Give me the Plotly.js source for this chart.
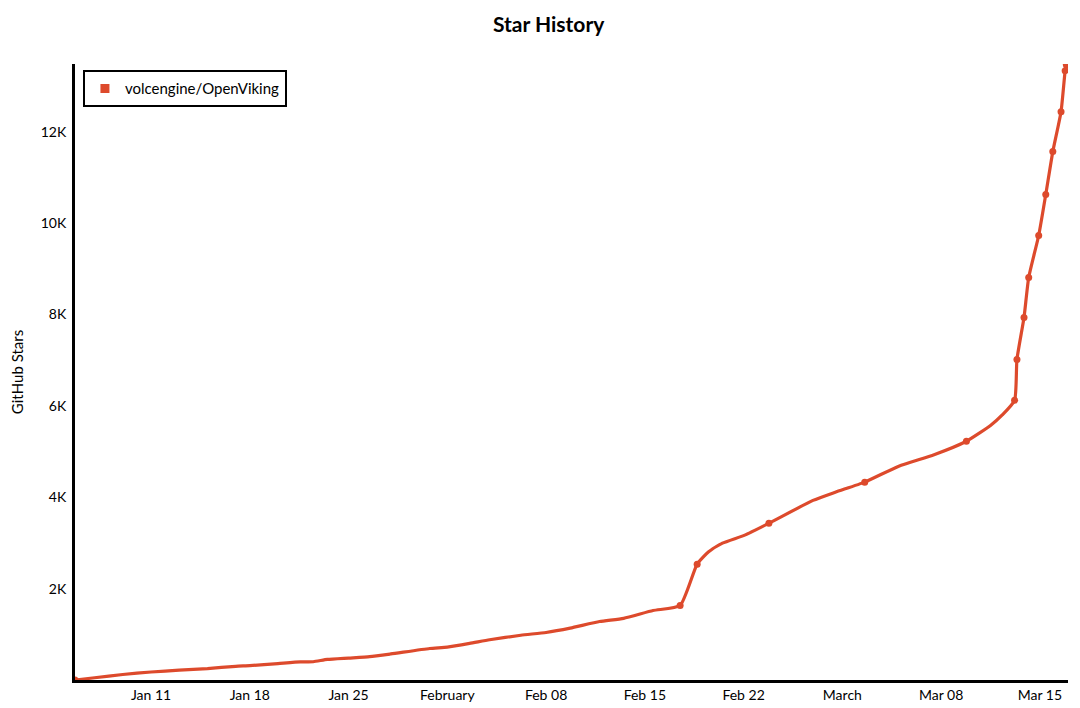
<!DOCTYPE html>
<html><head><meta charset="utf-8">
<script src="https://cdn.plot.ly/plotly-3.0.1.min.js"></script>
<style>html,body{margin:0;padding:0;background:#fff}#chart{width:1080px;height:708px}</style>
</head><body><div id="chart"></div>
<script>
const seriesName = 'volcengine/OpenViking';
const chartTitle = 'Star History';
const yTitle = 'GitHub Stars';

const lineDates = [
  '2026-01-05 14:40','2026-01-07 00:00','2026-01-09 00:00','2026-01-11 00:00','2026-01-13 00:00',
  '2026-01-15 00:00','2026-01-17 00:00','2026-01-18 00:00','2026-01-20 00:00','2026-01-21 14:00',
  '2026-01-22 12:00','2026-01-23 12:00','2026-01-25 00:00','2026-01-26 12:00','2026-01-28 00:00',
  '2026-01-30 18:00','2026-02-01 00:00','2026-02-02 14:00','2026-02-04 00:00','2026-02-06 05:00',
  '2026-02-08 00:00','2026-02-09 17:00','2026-02-11 19:00','2026-02-13 12:00','2026-02-15 14:00',
  '2026-02-17 12:00','2026-02-18 17:00','2026-02-19 12:00','2026-02-20 12:00','2026-02-22 02:00',
  '2026-02-23 19:00','2026-02-26 22:00','2026-02-28 12:00','2026-03-02 14:00','2026-03-05 00:00',
  '2026-03-07 12:00','2026-03-09 19:00','2026-03-11 12:00','2026-03-12 08:00','2026-03-13 05:00',
  '2026-03-13 09:00','2026-03-13 21:00','2026-03-14 05:00','2026-03-14 22:00','2026-03-15 10:00',
  '2026-03-15 22:00','2026-03-16 12:00','2026-03-16 19:00','2026-03-16 21:00'
];
const lineStars = [
  0, 50, 120, 175, 215,
  250, 300, 315, 360, 395,
  400, 450, 480, 510, 570,
  690, 720, 800, 880, 980,
  1040, 1135, 1280, 1350, 1520,
  1630, 2535, 2800, 2995, 3170,
  3430, 3930, 4110, 4330, 4680,
  4930, 5225, 5570, 5800, 6120,
  7016, 7934, 8809, 9727, 10623,
  11563, 12437, 13333, 13464
];

const dotDates = [
  '2026-01-05 14:40','2026-02-17 12:00','2026-02-18 17:00','2026-02-23 19:00','2026-03-02 14:00',
  '2026-03-09 19:00','2026-03-13 05:00','2026-03-13 09:00','2026-03-13 21:00','2026-03-14 05:00',
  '2026-03-14 22:00','2026-03-15 10:00','2026-03-15 22:00','2026-03-16 12:00','2026-03-16 19:00',
  '2026-03-16 21:00'
];
const dotStars = [
  0, 1630, 2535, 3430, 4330,
  5225, 6120, 7016, 7934, 8809,
  9727, 10623, 11563, 12437, 13333,
  13464
];

const xTickVals = ['2026-01-11','2026-01-18','2026-01-25','2026-02-01','2026-02-08','2026-02-15','2026-02-22','2026-03-01','2026-03-08','2026-03-15'];
const xTickText = ['Jan 11','Jan 18','Jan 25','February','Feb 08','Feb 15','Feb 22','March','Mar 08','Mar 15'];
const yTickVals = [2000, 4000, 6000, 8000, 10000, 12000];
const yTickText = ['2K', '4K', '6K', '8K', '10K', '12K'];

const red = '#dd4a2c';
const fontFam = 'Lato, "Noto Sans", sans-serif';

const traces = [
  {x: lineDates, y: lineStars, type: 'scatter', mode: 'lines',
   line: {color: red, width: 3.2, shape: 'spline', smoothing: 0.5}, showlegend: false, hoverinfo: 'skip'},
  {x: dotDates, y: dotStars, type: 'scatter', mode: 'markers',
   marker: {color: red, size: 7}, showlegend: false},
  {x: [null], y: [null], type: 'scatter', mode: 'markers', name: seriesName,
   marker: {color: red, size: 9, symbol: 'square'}, showlegend: true}
];

const layout = {
  width: 1080, height: 708,
  paper_bgcolor: '#fff', plot_bgcolor: '#fff',
  margin: {l: 75, r: 12, t: 64, b: 28},
  font: {family: fontFam, color: '#000', size: 13},
  title: {text: '<b>' + chartTitle + '</b>', x: 0.508, xanchor: 'center', y: 0.965, yanchor: 'middle',
          font: {family: fontFam, size: 21, color: '#000'}},
  xaxis: {
    type: 'date', range: ['2026-01-05 14:40', '2026-03-16 23:50'],
    tickmode: 'array', tickvals: xTickVals, ticktext: xTickText,
    showgrid: false, zeroline: false, showline: true, linecolor: '#000', linewidth: 3,
    ticks: '', tickfont: {size: 14}, fixedrange: true
  },
  yaxis: {
    range: [0, 13480],
    tickmode: 'array', tickvals: yTickVals, ticktext: yTickText,
    showgrid: false, zeroline: false, showline: true, linecolor: '#000', linewidth: 3,
    ticks: '', ticklabelstandoff: 3, tickfont: {size: 14},
    title: {text: yTitle, font: {size: 15}, standoff: 14}, fixedrange: true
  },
  legend: {
    x: 0.008, y: 0.99, xanchor: 'left', yanchor: 'top',
    bgcolor: '#fff', bordercolor: '#000', borderwidth: 2,
    font: {size: 15, family: fontFam}, itemwidth: 30
  },
  showlegend: true
};

Plotly.newPlot('chart', traces, layout, {displayModeBar: false, staticPlot: true});
</script>
</body></html>
